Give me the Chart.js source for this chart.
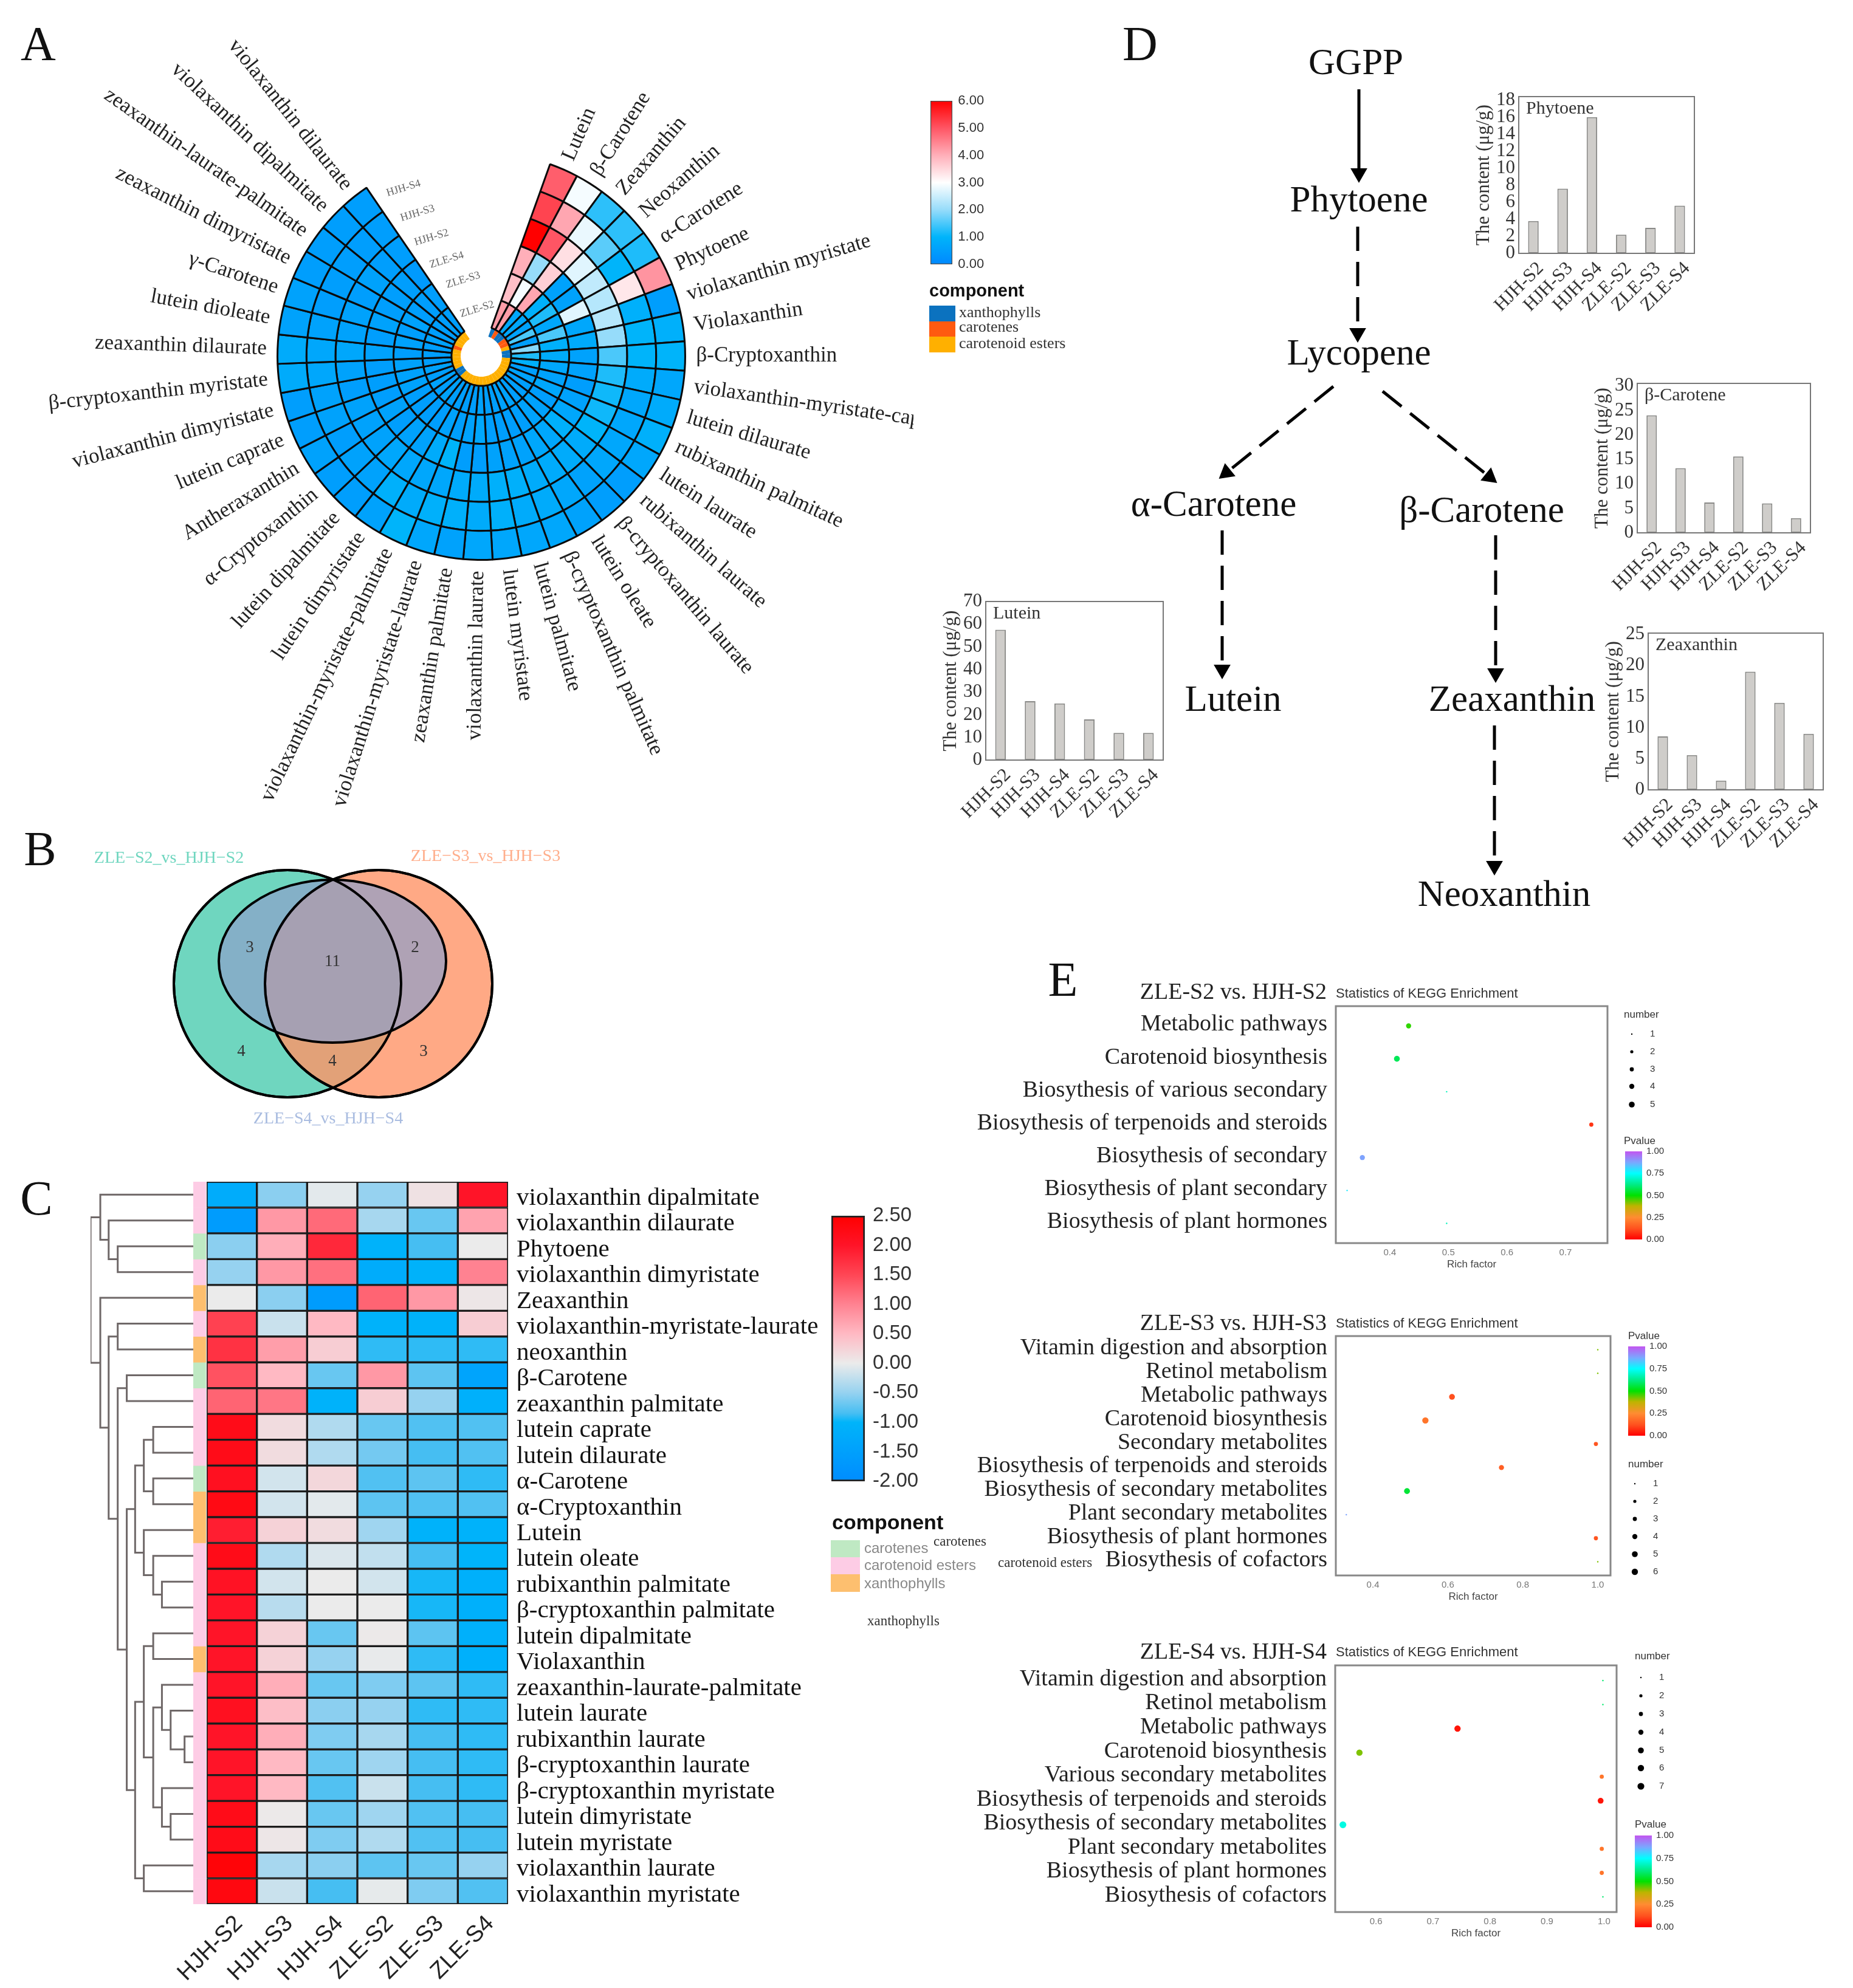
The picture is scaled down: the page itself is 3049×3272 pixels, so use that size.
<!DOCTYPE html>
<html><head><meta charset="utf-8">
<style>html,body{margin:0;padding:0;background:#fff}body{position:relative;width:3049px;height:3272px;overflow:hidden}canvas{position:absolute;display:block}</style>
<script src="https://cdn.jsdelivr.net/npm/chart.js@4"></script>
</head><body>
<script>
// ---------- Panel A data ----------
const wheelLabels=["Lutein","β-Carotene","Zeaxanthin","Neoxanthin","α-Carotene","Phytoene","violaxanthin myristate","Violaxanthin","β-Cryptoxanthin","violaxanthin-myristate-caprate","lutein dilaurate","rubixanthin palmitate","lutein laurate","rubixanthin laurate","β-cryptoxanthin laurate","lutein oleate","β-cryptoxanthin palmitate","lutein palmitate","lutein myristate","violaxanthin laurate","zeaxanthin palmitate","violaxanthin-myristate-laurate","violaxanthin-myristate-palmitate","lutein dimyristate","lutein dipalmitate","α-Cryptoxanthin","Antheraxanthin","lutein caprate","violaxanthin dimyristate","β-cryptoxanthin myristate","zeaxanthin dilaurate","lutein dioleate","γ-Carotene","zeaxanthin dimyristate","zeaxanthin-laurate-palmitate","violaxanthin dipalmitate","violaxanthin dilaurate"];
const wheelHJHS4=[4.9,2.9,1.3,1.3,1.2,4.3,.5,.9,1,.7,.8,.9,.7,.5,.5,.6,.7,.7,.7,.7,.6,.7,1,.6,.5,.5,.6,.5,.5,.8,.8,.6,.6,.5,.5,.5,.5];
const wheelHJHS3=[5.2,4.1,2.8,1.6,1.0,3.3,.9,1,1,.8,.7,.7,.7,.7,.6,.7,.8,.8,.9,.8,.9,.9,.8,.9,.6,.6,.5,.6,.6,.7,.7,.6,.5,.5,.5,.5,.5];
const wheelHJHS2=[6,5,3.4,2.7,2.4,2.3,2.3,2,1.5,1.2,1.1,1.1,1,.8,.8,.8,.8,.9,.9,.8,.8,.7,.7,.7,.7,.6,.6,.6,.5,.6,.7,.6,.6,.5,.6,.5,.5];
const wheelZLES4=[4,2,3.6,.6,.6,2.7,.7,.8,.6,.6,.5,.6,.7,.9,.7,.7,.6,.6,.6,.5,.5,1,.8,.6,.6,.5,.6,.5,.5,.5,.6,.5,.6,.5,.5,.5,.4];
const wheelZLES3=[3.8,2.9,4.1,.9,1.2,.7,1.5,.9,.8,.7,.6,.7,.5,.6,.6,.5,.5,.5,.5,.7,.6,.5,.6,.5,.5,.5,.5,.6,.6,.6,.5,.6,.5,.6,.5,.5,.5];
const wheelZLES2=[4.2,4.2,.7,.7,.6,1.5,.5,1.9,1.2,.9,.5,.6,.5,.5,.5,.6,.6,.5,.5,.6,.5,.5,.5,.5,.6,.5,.6,.5,.6,.5,.5,.5,.6,.5,.5,.5,.5];
const wheelClass="xcxxcce xx eeeeeeeeeeeeeeee xx eeeee c eeee".replace(/ /g,"").split("");
// ---------- Panel B data ----------
const vennSets=["ZLE−S2_vs_HJH−S2","ZLE−S3_vs_HJH−S3","ZLE−S4_vs_HJH−S4"];
const vennCounts=["3","2","11","4","3","4"];
// ---------- Panel C data ----------
const heatRows=["violaxanthin dipalmitate","violaxanthin dilaurate","Phytoene","violaxanthin dimyristate","Zeaxanthin","violaxanthin-myristate-laurate","neoxanthin","β-Carotene","zeaxanthin palmitate","lutein caprate","lutein dilaurate","α-Carotene","α-Cryptoxanthin","Lutein","lutein oleate","rubixanthin palmitate","β-cryptoxanthin palmitate","lutein dipalmitate","Violaxanthin","zeaxanthin-laurate-palmitate","lutein laurate","rubixanthin laurate","β-cryptoxanthin laurate","β-cryptoxanthin myristate","lutein dimyristate","lutein myristate","violaxanthin laurate","violaxanthin myristate"];
const samples=["HJH-S2","HJH-S3","HJH-S4","ZLE-S2","ZLE-S3","ZLE-S4"];
const heatHJHS2=[-1.2,-1.6,-.55,-.5,0,1.55,1.7,1.4,1.25,2.2,2.2,2.1,2.25,1.9,2.2,2.05,2,2,2,2,2.1,2,2,2,2.2,2.2,2.4,2.3];
const heatHJHS3=[-.55,.8,.6,.8,-.55,-.2,.75,.5,1.1,.15,.15,-.15,-.15,.25,-.35,-.15,-.3,.25,.25,.6,.45,.6,.5,.5,.02,.05,-.4,-.2];
const heatHJHS4=[-.05,1.2,1.8,1.15,-1.6,.5,.3,-.7,-1.05,-.35,-.35,.2,-.05,.15,-.1,0,0,-.7,-.5,-.7,-.55,-.6,-.7,-.8,-.7,-.6,-.55,-.85];
const heatZLES2=[-.5,-.4,-1.05,-1.2,1.25,-1.05,-.9,.8,.3,-.7,-.65,-.8,-.75,-.45,-.25,-.15,0,.02,-.02,-.6,-.5,-.4,-.45,-.2,-.45,-.35,-.75,-.03];
const heatZLES3=[.1,-.7,-.85,-1.05,.8,-1.05,-.9,-.75,-.5,-.8,-.85,-.75,-.8,-1.05,-.85,-.95,-.95,-.75,-.9,-.75,-.9,-.85,-.85,-.85,-.8,-.8,-.7,-.6];
const heatZLES4=[2,.7,0,1,.05,.3,-.9,-1.4,-1.1,-.8,-.8,-.9,-.8,-1.05,-1,-1.1,-1.1,-1.1,-1.1,-.9,-.9,-.9,-.9,-.9,-.85,-.85,-.5,-.8];
const heatClass=["e","e","c","e","x","e","x","c","e","e","e","c","x","x","e","e","e","e","x","e","e","e","e","e","e","e","e","e"];
const dendrogram=[260,[288,0,[312,1,[338,2,3]]],[288,4,[312,[338,5,6],[338,[364,7,8],[364,[388,[413,[440,9,10],[440,11,12]],[413,13,[440,14,[465,15,16]]]],[388,[413,[440,17,18],[440,[465,19,[490,20,[530,21,22]]],[465,23,[490,24,25]]]],[413,26,27]]]]]]];
// ---------- Panel D data ----------
const phytoeneValues=[3.8,7.6,16,2.2,3,5.6];
const betaCaroteneValues=[24,13.2,6.2,15.6,6,3];
const luteinValues=[57.5,26,25,18,12,12];
const zeaxanthinValues=[8.6,5.6,1.5,19,14,9];
// ---------- Panel E data ----------
const e1Paths=["Metabolic pathways","Carotenoid biosynthesis","Biosythesis of various secondary","Biosythesis of terpenoids and steroids","Biosythesis of secondary","Biosythesis of plant secondary","Biosythesis of plant hormones"];
const e1Rich=[.432,.412,.497,.744,.353,.327,.497];
const e1Number=[4,5,1,3,4,1,1];
const e1P=[.47,.58,.68,.08,.88,.78,.68];
const e2Paths=["Vitamin digestion and absorption","Retinol metabolism","Metabolic pathways","Carotenoid biosynthesis","Secondary metabolites","Biosythesis of terpenoids and steroids","Biosythesis of secondary metabolites","Plant secondary metabolites","Biosythesis of plant hormones","Biosythesis of cofactors"];
const e2Rich=[1,1,.611,.54,.995,.743,.491,.329,.995,1];
const e2Number=[1,1,5,6,3,4,5,1,3,1];
const e2P=[.42,.42,.12,.2,.13,.15,.55,.88,.13,.42];
const e3Paths=["Vitamin digestion and absorption","Retinol metabolism","Metabolic pathways","Carotenoid biosynthesis","Various secondary metabolites","Biosythesis of terpenoids and steroids","Biosythesis of secondary metabolites","Plant secondary metabolites","Biosythesis of plant hormones","Biosythesis of cofactors"];
const e3Rich=[.998,.998,.743,.571,.996,.994,.542,.996,.996,.998];
const e3Number=[1,1,6,6,3,5,7,3,3,1];
const e3P=[.6,.6,.03,.42,.2,.03,.72,.2,.2,.6];

// ---------- Colour scales ----------
const wheelStops=[[0,[0,136,255]],[1,[0,180,250]],[2,[150,220,250]],[3,[255,255,255]],[4,[255,175,185]],[5,[255,85,100]],[6,[255,0,0]]];
const heatStops=[[-2,[0,140,255]],[-1,[0,180,250]],[-.85,[70,190,242]],[-.5,[150,210,240]],[0,[235,235,235]],[.5,[255,185,195]],[1,[255,130,145]],[1.5,[255,70,85]],[2,[255,20,40]],[2.5,[255,0,0]]];
const pStops=[[0,[255,0,0]],[.12,[255,80,30]],[.25,[255,140,50]],[.38,[190,180,0]],[.5,[0,225,0]],[.62,[0,235,130]],[.75,[0,255,255]],[.87,[120,170,255]],[1,[195,85,240]]];
const classColours={x:"#0b72bf",c:"#ff5a10",e:"#ffb000"};
const heatClassColours={x:"#fdbf6f",c:"#bfe9c3",e:"#fdcce5"};
const bubbleRadius=[0,1.2,2.6,3.4,4.2,4.8,5.2,5.6];
const SERIF="'Liberation Serif'",SANS="'Liberation Sans'";

function rgb(c){return `rgb(${c.map(Math.round).join(",")})`}
function colourAt(stops,v){
  if(v<=stops[0][0])return rgb(stops[0][1]);
  for(let i=1;i<stops.length;i++){
    if(v<=stops[i][0]){const [a,ca]=stops[i-1],[b,cb]=stops[i],t=(v-a)/(b-a);return rgb(ca.map((x,k)=>x+(cb[k]-x)*t));}
  }
  return rgb(stops[stops.length-1][1]);
}
Chart.defaults.animation=false;
Chart.defaults.responsive=false;
Chart.defaults.plugins.legend.display=false;
Chart.defaults.plugins.tooltip.enabled=false;
Chart.defaults.font.family=SANS;
Chart.defaults.layout.autoPadding=false;
function mount(l,t,w,h){
  const c=document.createElement("canvas");c.width=w;c.height=h;
  c.style.left=l+"px";c.style.top=t+"px";c.style.width=w+"px";c.style.height=h+"px";
  document.body.appendChild(c);return c.getContext("2d");
}
const hidden={display:false};
const fitX=h=>s=>{s.height=h;s.paddingLeft=0;s.paddingRight=0;};
const fitY=w=>s=>{s.width=w;s.paddingTop=0;s.paddingBottom=0;};

// ---------- Panel A: circular heat map ----------
(function(){
  const cx=792,cy=586,R=337,gapEnd=19.7,span=306;
  const top=R*Math.cos(gapEnd*Math.PI/180);
  const rings=[wheelHJHS4,wheelHJHS3,wheelHJHS2,wheelZLES4,wheelZLES3,wheelZLES2];
  const one=wheelLabels.map(()=>1);
  const datasets=rings.map(r=>({data:one,backgroundColor:r.map(v=>colourAt(wheelStops,v)),borderColor:"#0a0a0a",borderWidth:3,weight:1}));
  datasets.push({data:one,backgroundColor:wheelClass.map(k=>classColours[k]),borderColor:wheelClass.map(k=>classColours[k]),borderWidth:0,weight:.316});
  new Chart(mount(0,0,1503,1340),{type:"doughnut",
    data:{labels:wheelLabels,datasets},
    options:{rotation:gapEnd,circumference:span,cutout:33,
      layout:{padding:{left:cx-R,right:1503-cx-R,top:cy-top,bottom:1340-cy-R}}},
    plugins:[{id:"radial",afterDatasetsDraw(ch){
      const ctx=ch.ctx;ctx.save();ctx.font="35px "+SERIF;ctx.fillStyle="#222";ctx.textBaseline="middle";
      ch.getDatasetMeta(0).data.forEach((a,i)=>{
        const mid=(a.startAngle+a.endAngle)/2,r=a.outerRadius+18;
        ctx.save();ctx.translate(a.x+Math.cos(mid)*r,a.y+Math.sin(mid)*r);
        const th=(mid+Math.PI/2+Math.PI*4)%(Math.PI*2);
        if(th<Math.PI){ctx.rotate(mid);ctx.textAlign="left";}else{ctx.rotate(mid+Math.PI);ctx.textAlign="right";}
        ctx.fillText(wheelLabels[i],0,0);ctx.restore();
      });ctx.restore();
    }}]});
})();

// ---------- Colour bars ----------
function colourBar(l,t,w,h,min,max,step,stops,size,labelW,col,lw){
  const pad=Math.ceil(size/2)+2;
  new Chart(mount(l-2,t-pad,w+labelW+4,h+2*pad),{type:"bar",
    data:{labels:[""],datasets:[{data:[[min,max]],barPercentage:1,categoryPercentage:1,borderSkipped:false,borderColor:col,borderWidth:lw,
      backgroundColor(c){const a=c.chart.chartArea;if(!a)return "#ccc";const g=c.chart.ctx.createLinearGradient(0,a.bottom,0,a.top);stops.forEach(([v,k])=>g.addColorStop((v-min)/(max-min),rgb(k)));return g;}}]},
    options:{layout:{padding:{left:2,right:2,top:pad,bottom:pad}},
      scales:{x:hidden,y:{position:"right",min,max,afterFit:fitY(labelW),grid:{display:false,tickColor:col,tickLength:Math.max(4,size/3)},border:{display:false},
        ticks:{stepSize:step,autoSkip:false,includeBounds:false,padding:2,color:"#333",font:{size},callback:v=>Number(v).toFixed(2)}}}}});
}
colourBar(1531,166,36,269,0,6,1,wheelStops,22,62,"#444",1.5);
colourBar(1368,2001,55,437,-2,2.5,.5,heatStops,33,110,"#222",3);
colourBar(2674,1895,28,145,0,1,.25,pStops,15,42,"#ddd",0);
colourBar(2679,2216,28,147,0,1,.25,pStops,15,42,"#ddd",0);
colourBar(2690,3021,28,151,0,1,.25,pStops,15,42,"#ddd",0);

// ---------- Panel B: Venn ----------
(function(){
  const L=280,TOP=1420,W=540,H=400;
  const rx=187,ry=134;
  function ellipse(fill){const c=document.createElement("canvas");c.width=rx*2+8;c.height=ry*2+8;const g=c.getContext("2d");g.beginPath();g.ellipse(rx+4,ry+4,rx,ry,0,0,Math.PI*2);g.fillStyle=fill;g.fill();g.lineWidth=4;g.strokeStyle="#000";g.stroke();return c;}
  const a={x:473,y:1619,r:187},b={x:623,y:1619,r:187},c={x:547,y:1582,r:1};
  const ds=(p,fill,order,extra)=>Object.assign({data:[p],backgroundColor:fill,borderColor:"#000",borderWidth:4,order,clip:false},extra||{});
  new Chart(mount(L,TOP,W,H),{type:"bubble",data:{datasets:[
    ds(a,"rgba(0,0,0,0)",0),ds(b,"rgba(0,0,0,0)",0),
    ds(c,"#000",1,{pointStyle:ellipse("rgba(141,160,203,.7)")}),
    ds(b,"rgba(255,147,102,.8)",2),
    ds(a,"rgb(111,214,191)",3)
  ]},options:{layout:{padding:0},scales:{x:{display:false,min:L,max:L+W},y:{display:false,reverse:true,min:TOP,max:TOP+H}}}});
})();

// ---------- Panel C ----------
const rowScale={min:0,max:28,reverse:true};
const heatSeries=[heatHJHS2,heatHJHS3,heatHJHS4,heatZLES2,heatZLES3,heatZLES4];
new Chart(mount(236,1941,1140,1331),{type:"bar",
  data:{labels:samples,datasets:heatSeries.map((vals,k)=>({
    data:vals.map((v,i)=>({x:samples[k],y:[i,i+1]})),
    backgroundColor:vals.map(v=>colourAt(heatStops,v)),
    borderColor:"#1c1c1c",borderWidth:2,borderSkipped:false,grouped:false,barPercentage:1,categoryPercentage:1}))},
  options:{layout:{padding:{left:104,top:4,right:0,bottom:0}},
    scales:{
      x:{afterFit:fitX(138),grid:{display:false},border:{display:false},
        ticks:{autoSkip:false,minRotation:45,maxRotation:45,padding:2,labelOffset:12,color:"#222",font:{size:38}}},
      y:Object.assign({},rowScale,{position:"right",afterFit:fitY(540),
        afterBuildTicks(a){a.ticks=heatRows.map((_,i)=>({value:i+.5}))},
        grid:{display:false,tickLength:0},border:{display:false},
        ticks:{autoSkip:false,padding:14,labelOffset:6,color:"#111",font:{family:SERIF,size:41},callback:v=>heatRows[v-.5]}})
    }}});
new Chart(mount(318,1941,21,1331),{type:"bar",
  data:{labels:["component"],datasets:heatClass.map((k,i)=>({data:[[i,i+1]],backgroundColor:heatClassColours[k],grouped:false,barPercentage:1,categoryPercentage:1}))},
  options:{layout:{padding:{top:4,bottom:138}},scales:{x:hidden,y:Object.assign({display:false},rowScale)}}});
(function(){
  const merges=[];
  (function walk(n){
    if(typeof n==="number")return {x:555,y:n+.5};
    const a=walk(n[1]),b=walk(n[2]);
    merges.push([{x:a.x,y:a.y},{x:n[0],y:a.y},{x:n[0],y:b.y},{x:b.x,y:b.y}]);
    return {x:n[0],y:(a.y+b.y)/2};
  })(dendrogram);
  new Chart(mount(145,1941,177,1331),{type:"scatter",
    data:{datasets:merges.map(m=>({data:m,showLine:true,borderColor:"#6f6868",borderWidth:3,pointRadius:0,tension:0}))},
    options:{layout:{padding:{left:4,right:4,top:4,bottom:138}},scales:{x:{display:false,min:260,max:555},y:Object.assign({display:false},rowScale)}}});
})();

// ---------- Panel D bar charts ----------
function contentBars(title,values,max,step,box){
  const yW=76,xH=130,pt=20,pr=6;
  new Chart(mount(box.l-yW,box.t-pt,box.r-box.l+yW+pr,box.b-box.t+pt+xH),{type:"bar",
    data:{labels:samples,datasets:[{data:values,backgroundColor:"#cfcdca",borderColor:"#8a8a88",borderWidth:2,barPercentage:.36,categoryPercentage:1,borderSkipped:false}]},
    options:{layout:{padding:{top:pt,right:pr}},
      scales:{
        x:{afterFit:fitX(xH),grid:{display:false,tickColor:"#777",tickLength:5},border:{color:"#777",width:2},
          ticks:{autoSkip:false,minRotation:45,maxRotation:45,padding:2,labelOffset:12,color:"#333",font:{family:SERIF,size:31}}},
        y:{min:0,max,afterFit:fitY(yW),grid:{display:false,tickColor:"#777",tickLength:5},border:{color:"#777",width:2},
          title:{display:true,text:"The content (μg/g)",color:"#333",padding:0,font:{family:SERIF,size:31}},
          ticks:{stepSize:step,autoSkip:false,includeBounds:false,padding:1,color:"#333",font:{family:SERIF,size:31}}}
      }},
    plugins:[{id:"frame",afterDatasetsDraw(ch){const a=ch.chartArea,g=ch.ctx;g.save();g.strokeStyle="#777";g.lineWidth=2;g.strokeRect(a.left,a.top,a.right-a.left,a.bottom-a.top);
      g.fillStyle="#333";g.font="30px "+SERIF;g.textBaseline="middle";g.fillText(title,a.left+12,a.top+20);g.restore();}}]});
}
contentBars("Phytoene",phytoeneValues,18.4,2,{l:2499,t:159,r:2788,b:417});
contentBars("β-Carotene",betaCaroteneValues,30.5,5,{l:2694,t:631,r:2979,b:877});
contentBars("Lutein",luteinValues,70,10,{l:1622,t:990,r:1914,b:1251});
contentBars("Zeaxanthin",zeaxanthinValues,25.2,5,{l:2712,t:1042,r:3000,b:1300});

// ---------- Panel E bubble charts ----------
function kegg(paths,rich,numbers,pv,box,xMin,xMax,xTicks){
  const cl=1560,xH=46,pt=6,pr=6,yW=box.l-cl,n=paths.length;
  new Chart(mount(cl,box.t-pt,box.r-cl+pr,box.b-box.t+pt+xH),{type:"bubble",
    data:{datasets:[{data:paths.map((_,i)=>({x:rich[i],y:i,r:bubbleRadius[numbers[i]]})),
      backgroundColor:pv.map(p=>colourAt(pStops,p)),borderWidth:0}]},
    options:{layout:{padding:{top:pt,right:pr}},
      scales:{
        x:{min:xMin,max:xMax,afterFit:fitX(xH),afterBuildTicks(a){a.ticks=xTicks.map(value=>({value}))},
          grid:{display:false,tickColor:"#777",tickLength:4},border:{display:false},
          title:{display:true,text:"Rich factor",color:"#444",padding:{top:0,bottom:0},font:{size:17}},
          ticks:{padding:3,color:"#777",font:{size:15},callback:v=>Number(v).toFixed(1)}},
        y:{min:-box.m,max:n-1+box.m,reverse:true,afterFit:fitY(yW),afterBuildTicks(a){a.ticks=paths.map((_,value)=>({value}))},
          grid:{display:false,tickColor:"#777",tickLength:4},border:{display:false},
          ticks:{autoSkip:false,padding:10,labelOffset:-2,color:"#222",font:{family:SERIF,size:38},callback:v=>paths[v]}}
      }},
    plugins:[{id:"frame",afterDatasetsDraw(ch){const a=ch.chartArea,g=ch.ctx;g.save();g.strokeStyle="#888";g.lineWidth=3;g.strokeRect(a.left,a.top,a.right-a.left,a.bottom-a.top);g.restore();}}]});
}
kegg(e1Paths,e1Rich,e1Number,e1P,{l:2198,t:1656,r:2645,b:2046,m:.6},.3077,.7716,[.4,.5,.6,.7]);
kegg(e2Paths,e2Rich,e2Number,e2P,{l:2198,t:2199,r:2650,b:2593,m:.58},.301,1.034,[.4,.6,.8,1]);
kegg(e3Paths,e3Rich,e3Number,e3P,{l:2197,t:2741,r:2660,b:3147,m:.63},.5285,1.022,[.6,.7,.8,.9,1]);

// ---------- Page annotation layer: pathway arrows, legends, free text ----------
const dash=[40,18];
const arrows=[[2236,147,2236,285,[]],[2234,373,2234,548,dash],[2194,636,2018,778,dash],[2275,644,2451,785,dash],[2011,873,2011,1102,dash],[2461,881,2461,1108,dash],[2459,1194,2459,1425,dash]];
const numberKeys=[[2685,[1702,1731,1760,1788,1818]],[2690,[2442,2471,2500,2529,2558,2587]],[2700,[2761,2791,2821,2851,2881,2910,2940]]];
const swatches=[[1529,503,43,26,classColours.x],[1529,529,43,25,classColours.c],[1529,554,43,26,classColours.e],
  [1367,2535,48,28,heatClassColours.c],[1367,2563,48,28,heatClassColours.e],[1367,2591,48,29,heatClassColours.x]];
const T=[];
function t(s,x,y,size,font,color,align,rot,weight){T.push({s,x,y,size,font:font||SERIF,color:color||"#111",align:align||"center",rot:rot||0,weight:weight||"normal"});}
[["A",63,78],["B",66,1403],["C",60,1978],["D",1876,78],["E",1749,1618]].forEach(a=>t(a[0],a[1],a[2],80));
[["HJH-S4",664,310],["HJH-S3",687,351],["HJH-S2",710,391],["ZLE-S4",735,428],["ZLE-S3",762,461],["ZLE-S2",785,509]].forEach(a=>t(a[0],a[1],a[2],18,SERIF,"#666","center",-17));
t("component",1529,480,29,SANS,"#111","left",0,"bold");
t("xanthophylls",1578,515,26,SERIF,"#333","left");t("carotenes",1578,539,26,SERIF,"#333","left");t("carotenoid esters",1578,566,26,SERIF,"#333","left");
t(vennSets[0],278,1413,28,SERIF,"#6fd6bf");t(vennSets[1],799,1410,28,SERIF,"#ffae8c");t(vennSets[2],540,1842,28,SERIF,"#a9bce0");
[[411,1560],[683,1560],[547,1583],[397,1731],[697,1731],[547,1747]].forEach((p,i)=>t(vennCounts[i],p[0],p[1],27,SERIF,"#333"));
t("component",1369,2508,34,SANS,"#111","left",0,"bold");
t("carotenes",1422,2549,24,SANS,"#888","left");t("carotenoid esters",1422,2577,24,SANS,"#888","left");t("xanthophylls",1422,2607,24,SANS,"#888","left");
t("carotenes",1536,2538,23,SERIF,"#333","left");t("carotenoid esters",1642,2573,23,SERIF,"#333","left");t("xanthophylls",1427,2669,23,SERIF,"#333","left");
[["GGPP",2231,106],["Phytoene",2236,332],["Lycopene",2236,584],["α-Carotene",1997,833],["β-Carotene",2438,843],["Lutein",2029,1154],["Zeaxanthin",2488,1154],["Neoxanthin",2475,1475]].forEach(a=>t(a[0],a[1],a[2],61));
[["ZLE-S2 vs. HJH-S2",1634,"Statistics of KEGG Enrichment",1636],["ZLE-S3 vs. HJH-S3",2179,"Statistics of KEGG Enrichment",2179],["ZLE-S4 vs. HJH-S4",2720,"Statistics of KEGG Enrichment",2720]].forEach(a=>{t(a[0],2183,a[1],38,SERIF,"#222","right");t(a[2],2198,a[3],22,SANS,"#333","left");});
[[2672,1670,"number"],[2672,1878,"Pvalue"],[2679,2199,"Pvalue"],[2679,2410,"number"],[2690,2726,"number"],[2690,3003,"Pvalue"]].forEach(a=>t(a[2],a[0],a[1],17,SANS,"#333","left"));
numberKeys.forEach(k=>k[1].forEach((y,i)=>t(String(i+1),k[0]+30,y,15,SANS,"#333","left")));

new Chart(mount(0,0,3049,3272),{type:"scatter",
  data:{datasets:[
    ...arrows.map(a=>({data:[{x:a[0],y:a[1]},{x:a[2],y:a[3]}],showLine:true,tension:0,borderColor:"#000",borderWidth:5,borderDash:a[4],
      pointStyle:"triangle",pointRadius:[0,16],pointBorderWidth:0,backgroundColor:"#000",
      pointRotation:Math.atan2(a[2]-a[0],a[1]-a[3])*180/Math.PI})),
    ...numberKeys.map(k=>({data:k[1].map(y=>({x:k[0],y})),pointRadius:k[1].map((_,i)=>bubbleRadius[i+1]),backgroundColor:"#000",pointBorderWidth:0}))
  ]},
  options:{layout:{padding:0},scales:{x:{display:false,min:0,max:3049},y:{display:false,reverse:true,min:0,max:3272}}},
  plugins:[{id:"notes",afterDatasetsDraw(ch){
    const g=ch.ctx;g.save();
    swatches.forEach(s=>{g.fillStyle=s[4];g.fillRect(s[0],s[1],s[2],s[3]);});
    g.textBaseline="middle";
    T.forEach(o=>{g.save();g.translate(o.x,o.y);g.rotate(o.rot*Math.PI/180);g.font=`${o.weight} ${o.size}px ${o.font}`;g.fillStyle=o.color;g.textAlign=o.align;g.fillText(o.s,0,0);g.restore();});
    g.restore();
  }}]});
</script>
</body></html>
